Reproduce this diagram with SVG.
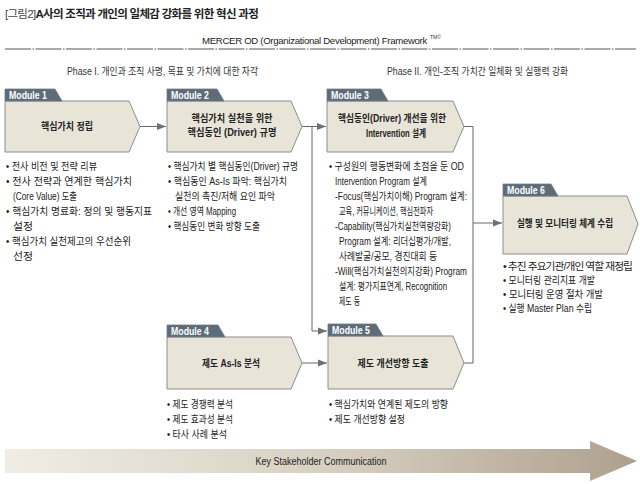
<svg xmlns="http://www.w3.org/2000/svg" width="640" height="484" viewBox="0 0 640 484">
<defs>
<style>
text{font-family:"Liberation Sans","Noto Sans CJK KR",sans-serif;fill:#222}
.title{font-size:11.5px;font-weight:bold;fill:#222;letter-spacing:-0.7px}
.title .lt{font-weight:normal;fill:#444}
.fw{font-size:9.6px;fill:#222;letter-spacing:-0.3px}
.sup{font-size:5px;fill:#333;letter-spacing:0}
.phase{font-size:10px;fill:#333}
.tab{fill:#5d6c79;stroke:#6f7c86;stroke-width:0.8}
.body{fill:#e8e5d8;stroke:#8c8c88;stroke-width:1}
.tabt{font-size:10px;font-weight:bold;fill:#fff}
.mt{font-size:10.3px;font-weight:600;fill:#222;text-anchor:middle}
.li{font-size:10.3px;fill:#222}
.tight{letter-spacing:-0.9px}
.conn{fill:none;stroke:#666;stroke-width:1}
.ka{font-size:10px;fill:#222;text-anchor:middle}
</style>
<marker id="ah" markerWidth="10" markerHeight="8" refX="9" refY="4" orient="auto" markerUnits="userSpaceOnUse">
<path d="M0,0.5 L9,4 L0,7.5 Z" fill="#707070"/>
</marker>
<linearGradient id="kg" x1="0" y1="0" x2="1" y2="0">
<stop offset="0" stop-color="#efede5"/>
<stop offset="0.5" stop-color="#d8d1c3"/>
<stop offset="1" stop-color="#aea08e"/>
</linearGradient>
</defs>
<rect width="640" height="484" fill="#fff"/>

<text class="title" x="5" y="18"><tspan class="lt">[그림2]</tspan>A사의 조직과 개인의 일체감 강화를 위한 혁신 과정</text>

<text class="fw" x="202" y="44">MERCER OD (Organizational Development) Framework<tspan class="sup" dx="3" dy="-5">TM©</tspan></text>
<line x1="5" y1="49" x2="636" y2="49" stroke="#555" stroke-width="1.2" stroke-dasharray="26,1.5,1.5,1.5"/>

<text class="phase" x="67" y="75" textLength="191" lengthAdjust="spacingAndGlyphs">Phase I. 개인과 조직 사명, 목표 및 가치에 대한 자각</text>
<text class="phase" x="387" y="75" textLength="181" lengthAdjust="spacingAndGlyphs">Phase II. 개인-조직 가치간 일체화 및 실행력 강화</text>

<g id="connectors">
<line class="conn" x1="140" y1="126.5" x2="166" y2="126.5" marker-end="url(#ah)"/>
<line class="conn" x1="302" y1="126.5" x2="326" y2="126.5" marker-end="url(#ah)"/>
<polyline class="conn" points="312,126.5 312,331 327,331" marker-end="url(#ah)"/>
<line class="conn" x1="302" y1="363" x2="327" y2="363" marker-end="url(#ah)"/>
<polyline class="conn" points="464,126.5 473,126.5 473,363 464,363"/>
<line class="conn" x1="473" y1="223" x2="502" y2="223" marker-end="url(#ah)"/>
</g>

<g id="module1">
<polygon class="body" points="5,101 129,101 140,126.5 129,152 5,152"/>
<polygon class="tab" points="5,89 55,89 62,101 5,101"/>
<text class="tabt" x="9" y="98.5" textLength="38" lengthAdjust="spacingAndGlyphs">Module 1</text>
<text class="mt" x="67" y="130" textLength="52" lengthAdjust="spacingAndGlyphs">핵심가치 정립</text>
<text class="li" x="6" y="170" textLength="91" lengthAdjust="spacingAndGlyphs">• 전사 비전 및 전략 리뷰</text>
<text class="li" x="6" y="185" textLength="126" lengthAdjust="spacingAndGlyphs">• 전사 전략과 연계한 핵심가치</text>
<text class="li" x="13" y="200" textLength="64" lengthAdjust="spacingAndGlyphs">(Core Value) 도출</text>
<text class="li" x="6" y="215" textLength="146" lengthAdjust="spacingAndGlyphs">• 핵심가치 명료화: 정의 및 행동지표</text>
<text class="li" x="13" y="230" textLength="20" lengthAdjust="spacingAndGlyphs">설정</text>
<text class="li" x="6" y="245" textLength="125" lengthAdjust="spacingAndGlyphs">• 핵심가치 실천제고의 우선순위</text>
<text class="li" x="13" y="260" textLength="20" lengthAdjust="spacingAndGlyphs">선정</text>
</g>

<g id="module2">
<polygon class="body" points="167,101 291,101 302,126.5 291,152 167,152"/>
<polygon class="tab" points="167,89 217,89 224,101 167,101"/>
<text class="tabt" x="171" y="98.5" textLength="38" lengthAdjust="spacingAndGlyphs">Module 2</text>
<text class="mt" x="232" y="122" textLength="81" lengthAdjust="spacingAndGlyphs">핵심가치 실천을 위한</text>
<text class="mt" x="232" y="136" textLength="89" lengthAdjust="spacingAndGlyphs">핵심동인 (Driver) 규명</text>
<text class="li" x="168" y="170" textLength="130" lengthAdjust="spacingAndGlyphs">• 핵심가치 별 핵심동인(Driver) 규명</text>
<text class="li" x="168" y="185" textLength="119" lengthAdjust="spacingAndGlyphs">• 핵심동인 As-Is 파악: 핵심가치</text>
<text class="li" x="175" y="200" textLength="100" lengthAdjust="spacingAndGlyphs">실천의 촉진/저해 요인 파악</text>
<text class="li" x="168" y="215" textLength="68" lengthAdjust="spacingAndGlyphs">• 개선 영역 Mapping</text>
<text class="li" x="168" y="230" textLength="92" lengthAdjust="spacingAndGlyphs">• 핵심동인 변화 방향 도출</text>
</g>

<g id="module3">
<polygon class="body" points="327,101 453,101 464,126.5 453,152 327,152"/>
<polygon class="tab" points="327,89 381,89 388,101 327,101"/>
<text class="tabt" x="331" y="98.5" textLength="38" lengthAdjust="spacingAndGlyphs">Module 3</text>
<text class="mt" x="392" y="122" textLength="108" lengthAdjust="spacingAndGlyphs">핵심동인(Driver) 개선을 위한</text>
<text class="mt" x="396" y="137" textLength="60" lengthAdjust="spacingAndGlyphs">Intervention 설계</text>
<text class="li" x="329" y="170" textLength="135" lengthAdjust="spacingAndGlyphs">• 구성원의 행동변화에 초점을 둔 OD</text>
<text class="li" x="335" y="185" textLength="92" lengthAdjust="spacingAndGlyphs">Intervention Program 설계</text>
<text class="li" x="335" y="200" textLength="132" lengthAdjust="spacingAndGlyphs">-Focus(핵심가치이해) Program 설계:</text>
<text class="li" x="339" y="215" textLength="94" lengthAdjust="spacingAndGlyphs">교육, 커뮤니케이션, 핵심전파자</text>
<text class="li" x="335" y="230" textLength="116" lengthAdjust="spacingAndGlyphs">-Capability(핵심가치실천역량강화)</text>
<text class="li" x="339" y="245" textLength="112" lengthAdjust="spacingAndGlyphs">Program 설계: 리더십평가/개발,</text>
<text class="li" x="339" y="260" textLength="98" lengthAdjust="spacingAndGlyphs">사례발굴/공모, 경진대회 등</text>
<text class="li" x="335" y="275" textLength="132" lengthAdjust="spacingAndGlyphs">-Will(핵심가치실천의지강화) Program</text>
<text class="li" x="339" y="290" textLength="108" lengthAdjust="spacingAndGlyphs">설계: 평가지표연계, Recognition</text>
<text class="li" x="339" y="305" textLength="21" lengthAdjust="spacingAndGlyphs">제도 등</text>
</g>

<g id="module4">
<polygon class="body" points="167,337 291,337 302,363 291,389 167,389"/>
<polygon class="tab" points="167,325 218,325 225,337 167,337"/>
<text class="tabt" x="171" y="334.5" textLength="38" lengthAdjust="spacingAndGlyphs">Module 4</text>
<text class="mt" x="231" y="367" textLength="58" lengthAdjust="spacingAndGlyphs">제도 As-Is 분석</text>
<text class="li" x="167" y="408" textLength="66" lengthAdjust="spacingAndGlyphs">• 제도 경쟁력 분석</text>
<text class="li" x="167" y="423" textLength="66" lengthAdjust="spacingAndGlyphs">• 제도 효과성 분석</text>
<text class="li" x="167" y="438" textLength="60" lengthAdjust="spacingAndGlyphs">• 타사 사례 분석</text>
</g>

<g id="module5">
<polygon class="body" points="328,336 453,336 464,363 453,389 328,389"/>
<polygon class="tab" points="328,324 376,324 383,336 328,336"/>
<text class="tabt" x="332" y="333.5" textLength="38" lengthAdjust="spacingAndGlyphs">Module 5</text>
<text class="mt" x="393" y="367" textLength="71" lengthAdjust="spacingAndGlyphs">제도 개선방향 도출</text>
<text class="li" x="329" y="408" textLength="119" lengthAdjust="spacingAndGlyphs">• 핵심가치와 연계된 제도의 방향</text>
<text class="li" x="329" y="423" textLength="76" lengthAdjust="spacingAndGlyphs">• 제도 개선방향 설정</text>
</g>

<g id="module6">
<polygon class="body" points="503,196 627,196 638,224 627,254 503,254"/>
<polygon class="tab" points="503,184 551,184 558,196 503,196"/>
<text class="tabt" x="507" y="193.5" textLength="38" lengthAdjust="spacingAndGlyphs">Module 6</text>
<text class="mt" x="565" y="227" textLength="96" lengthAdjust="spacingAndGlyphs">실행 및 모니터링 체계 수립</text>
<text class="li tight" x="503" y="270" textLength="129" lengthAdjust="spacingAndGlyphs">• 추진 주요기관/개인 역할 재정립</text>
<text class="li" x="503" y="284" textLength="92" lengthAdjust="spacingAndGlyphs">• 모니터링 관리지표 개발</text>
<text class="li" x="503" y="298" textLength="100" lengthAdjust="spacingAndGlyphs">• 모니터링 운영 절차 개발</text>
<text class="li" x="503" y="312" textLength="89" lengthAdjust="spacingAndGlyphs">• 실행 Master Plan 수립</text>
</g>

<g id="stakeholder">
<polygon points="5,449 590,449 590,441 637,461 590,481 590,473 5,473" fill="url(#kg)"/>
<text class="ka" x="321" y="464.5" textLength="131" lengthAdjust="spacingAndGlyphs">Key Stakeholder Communication</text>
</g>
</svg>
